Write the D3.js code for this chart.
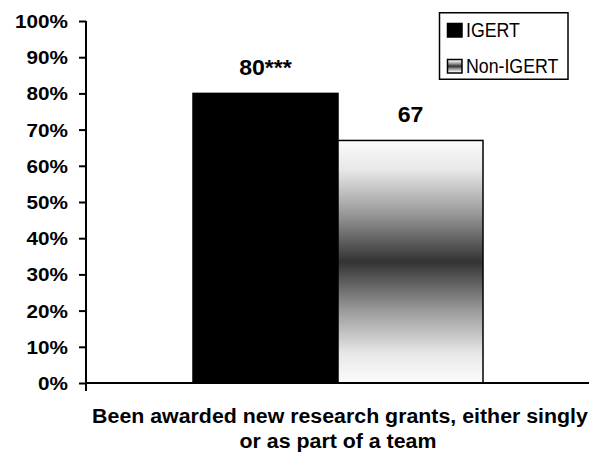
<!DOCTYPE html>
<html><head><meta charset="utf-8">
<script src="https://d3js.org/d3.v7.min.js"></script>
<style>
html,body{margin:0;padding:0;background:#fff;}
text{font-family:"Liberation Sans",Arial,sans-serif;}
</style></head>
<body>
<svg id="chart" width="589" height="455"></svg>
<script>
const category = "Been awarded new research grants, either singly";
const categoryLine2 = "or as part of a team";
const seriesNames = ["IGERT", "Non-IGERT"];
const seriesValues = [80, 67];
const valueLabels = ["80***", "67"];
const yTicks = [0, 10, 20, 30, 40, 50, 60, 70, 80, 90, 100];

const svg = d3.select("#chart");
const defs = svg.append("defs");
const grad = defs.append("linearGradient").attr("id","g1").attr("x1",0).attr("y1",0).attr("x2",0).attr("y2",1);
[[0,"#fbfbfb"],[0.12,"#e8e8e8"],[0.3,"#9a9a9a"],[0.5,"#333333"],[0.7,"#9a9a9a"],[0.88,"#e8e8e8"],[1,"#fbfbfb"]]
  .forEach(([o,c])=>grad.append("stop").attr("offset",o).attr("stop-color",c));

const x0 = 86, plotRight = 589, yTop = 21, yBottom = 383;
const y = d3.scaleLinear().domain([0,100]).range([yBottom, yTop]);
const x = d3.scaleBand().domain(seriesNames).range([193, 483]);
const fills = ["#000000", "url(#g1)"];

function stretchedText(g, tx, ty, sx, str, size, weight, anchor, family){
  const t = g.append("text")
    .attr("transform",`translate(${tx},${ty}) scale(${sx},1)`)
    .attr("text-anchor",anchor||"start")
    .attr("font-size",size)
    .attr("font-weight",weight||"normal")
    .text(str);
  if(family) t.attr("font-family",family);
  return t;
}

// bars
svg.selectAll("rect.bar").data(seriesValues).enter().append("rect")
  .attr("class","bar")
  .attr("x",(d,i)=>x(seriesNames[i]))
  .attr("width",x.bandwidth())
  .attr("y",d=>y(d))
  .attr("height",d=>y(0)-y(d))
  .attr("fill",(d,i)=>fills[i])
  .attr("stroke","#000").attr("stroke-width",1.5);

// value labels
seriesValues.forEach((d,i)=>{
  stretchedText(svg, x(seriesNames[i])+x.bandwidth()/2, y(d)-18.5, 1.05, valueLabels[i], 22, "bold", "middle");
});

// y axis
const sxTick = 1.15;
const yAxis = d3.axisLeft(y).tickValues(yTicks).tickFormat(d=>d+"%").tickSize(7).tickPadding(11);
const ga = svg.append("g").attr("transform",`translate(${x0},0)`).call(yAxis);
ga.select(".domain").attr("stroke","#000").attr("stroke-width",2).attr("d",`M0,${yTop}V${yBottom}`);
ga.selectAll(".tick line").attr("stroke","#000").attr("stroke-width",2);
ga.selectAll(".tick text").attr("font-size",18).attr("font-weight","bold").attr("fill","#000")
  .attr("font-family","Liberation Sans, Arial, sans-serif").attr("dy","0.36em")
  .attr("x",-18/sxTick).attr("transform",`scale(${sxTick},1)`);

// x axis
svg.append("line").attr("x1",x0-1).attr("x2",plotRight).attr("y1",yBottom).attr("y2",yBottom)
  .attr("stroke","#000").attr("stroke-width",2);
svg.append("line").attr("x1",x0).attr("x2",x0).attr("y1",yBottom).attr("y2",yBottom+8)
  .attr("stroke","#000").attr("stroke-width",2);

const cx = 340;
stretchedText(svg, cx, 422.5, 1.095, category, 19.5, "bold", "middle");
stretchedText(svg, cx-2, 447.5, 1.095, categoryLine2, 19.5, "bold", "middle");

// legend
const lg = svg.append("g");
lg.append("rect").attr("x",439.5).attr("y",12.75).attr("width",128.5).attr("height",66.5)
  .attr("fill","#fff").attr("stroke","#000").attr("stroke-width",1.5);
const legFill = ["#000","url(#g1)"];
seriesNames.forEach((n,i)=>{
  const yy = 23 + i*36;
  lg.append("rect").attr("x",447.5).attr("y",yy+0.5).attr("width",14.5).attr("height",13.5)
    .attr("fill",legFill[i]).attr("stroke","#000").attr("stroke-width",1.5);
  stretchedText(lg, 466, yy+14.3, 0.91, n, 19.5, "normal", "start");
});
</script>
</body></html>
